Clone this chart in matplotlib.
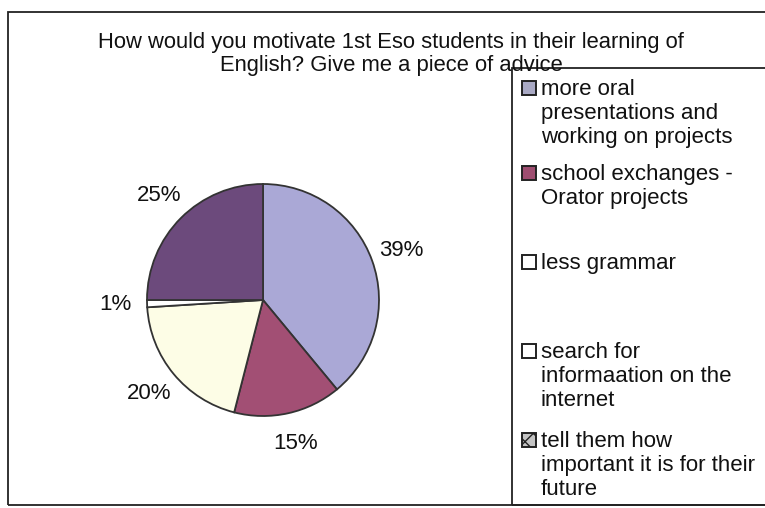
import matplotlib
matplotlib.use("Agg")
import matplotlib.pyplot as plt
from matplotlib.patches import Rectangle

plt.rcParams['font.family'] = ['Liberation Sans', 'DejaVu Sans']

categories = [
    "more oral\npresentations and\nworking on projects",
    "school exchanges -\nOrator projects",
    "less grammar",
    "search for\ninformaation on the\ninternet",
    "tell them how\nimportant it is for their\nfuture",
]
values = [39, 15, 20, 1, 25]
colors = ["#aaa8d6", "#a24f74", "#fdfde6", "#ffffff", "#6c4a7c"]
legend_colors = ["#a9a9c4", "#9e4d70", "#ffffff", "#ffffff", "#c4c4c4"]
legend_hatches = [None, None, None, None, "xx"]
title = "How would you motivate 1st Eso students in their learning of\nEnglish? Give me a piece of advice"

W, H = 765, 508
fig = plt.figure(figsize=(W / 100, H / 100), dpi=100)

def fx(x):
    return x / W

def fy(y):
    return 1 - y / H

# outer frame
fig.add_artist(Rectangle((fx(8), fy(505)), fx(770) - fx(8), fy(12) - fy(505),
                         transform=fig.transFigure, fill=False, lw=1.3, ec="#222222"))

# title
fig.text(fx(391), fy(54), title, ha="center", va="center", fontsize=15.8,
         linespacing=1.12, color="#111111")

# pie
cx, cy, r = 263, 300, 116
ax = fig.add_axes([fx(cx - r), fy(cy + r), (2 * r) / W, (2 * r) / H])
wedges, texts, autotexts = ax.pie(
    values, colors=colors, startangle=90, counterclock=False,
    autopct=lambda p: f"{p:.0f}%", pctdistance=1.27,
    wedgeprops=dict(edgecolor="#333333", linewidth=1.3),
    textprops=dict(fontsize=16, color="#111111"))
ax.set_xlim(-1, 1)
ax.set_ylim(-1, 1)
ax.set_aspect("auto")
ax.axis("off")

# legend box
fig.add_artist(Rectangle((fx(512), fy(505)), fx(770) - fx(512), fy(68) - fy(505),
                         transform=fig.transFigure, fill=False, lw=1.3, ec="#222222"))
centers = [88, 173, 262, 351, 440]
plt.rcParams['hatch.color'] = '#555555'
for label, col, hat, c in zip(categories, legend_colors, legend_hatches, centers):
    fig.add_artist(Rectangle((fx(522), fy(c + 7)), 14 / W, 14 / H,
                             transform=fig.transFigure, fc=col, ec="#222222",
                             lw=1.4, hatch=hat))
    fig.text(fx(541), fy(c - 9), label, ha="left", va="top", fontsize=16,
             linespacing=1.2, color="#111111")

fig.savefig("out.png", dpi=100)
